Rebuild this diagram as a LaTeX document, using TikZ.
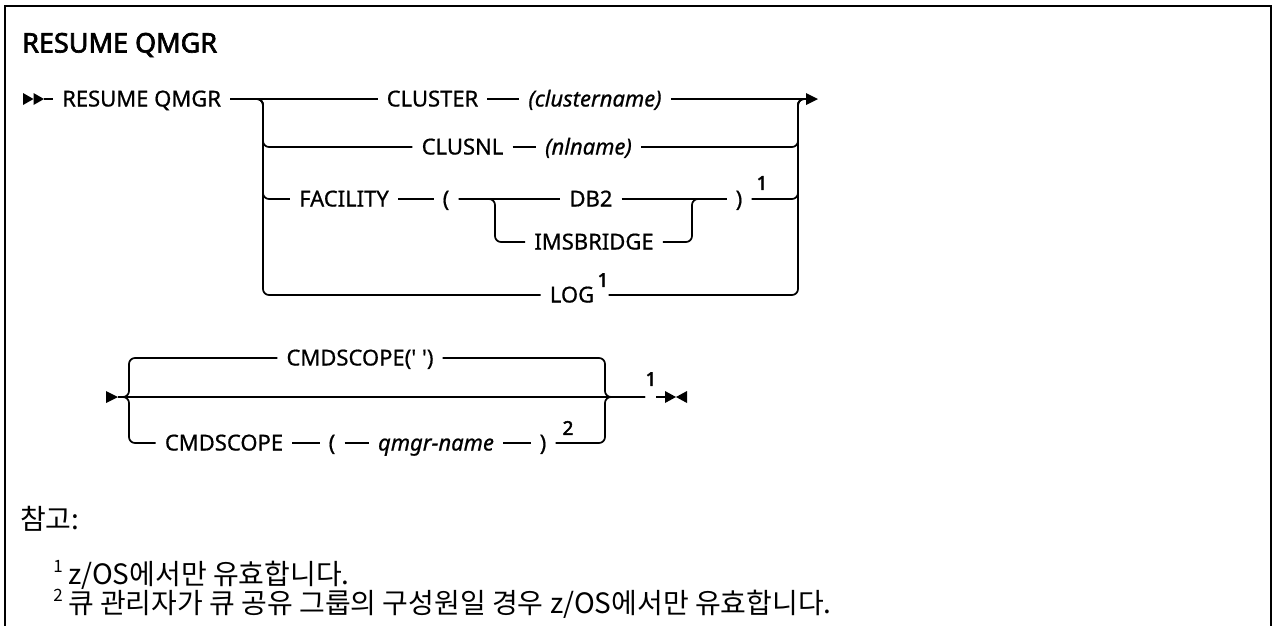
\documentclass[tikz,border=0pt]{standalone}
\usepackage{fontspec}
\setmainfont{Noto Sans}[BoldFont={Noto Sans}, BoldFeatures={FakeBold=2.4}]
\newfontfamily\krfont{Noto Sans CJK KR}
\newfontfamily\diafont{Noto Sans}[FakeBold=0.7]
\begin{document}
\begin{tikzpicture}[x=1pt,y=-1pt]
\tikzset{
 tok/.style={font=\diafont\fontsize{22}{26}\selectfont, inner xsep=9pt, inner ysep=0pt, text height=15pt, text depth=0pt},
 var/.style={tok, font=\diafont\fontsize{22}{26}\selectfont\itshape},
 supnum/.style={font=\fontsize{19}{21}\selectfont\bfseries, inner sep=0pt},
 rail/.style={line width=1.7pt},
 br/.style={rail, rounded corners=6pt},
 notetxt/.style={font=\krfont\fontsize{28}{32}\selectfont, anchor=west, inner sep=0pt},
 notesup/.style={font=\krfont\fontsize{17}{19}\selectfont, inner sep=0pt},
}
\useasboundingbox (0,0) rectangle (1274,625);
\draw[line width=2.8pt] (5,626) -- (5,6) -- (1271,6) -- (1271,626);

\node[anchor=west, font=\fontsize{27}{32}\selectfont\bfseries, inner sep=0pt] (title) at (22,45) {RESUME QMGR};

% ---------- diagram 1 ----------
\coordinate (s1) at (44,99);
\coordinate (jl1) at (263,99);
\coordinate (jr1) at (798,99);
\coordinate (e1) at (806,99);
\coordinate (jl2) at (495,199);
\coordinate (jr2) at (692,199);
\fill (23,93) -- (33.5,99) -- (23,105) -- cycle;
\fill (33.5,93) -- (44,99) -- (33.5,105) -- cycle;
\fill (806,93) -- (818,99) -- (806,105) -- cycle;

\node[tok, anchor=west] (rq) at (53,99) {RESUME QMGR};
\node[tok] (cl) at (432.5,99) {CLUSTER};
\node[var] (cn) at (595,99) {(clustername)};
\node[tok] (csn) at (462.5,147) {CLUSNL};
\node[var] (nln) at (588.5,147) {(nlname)};
\node[tok] (fac) at (344,199) {FACILITY};
\node[tok] (lp) at (446,199) {(};
\node[tok] (db2) at (591,199) {DB2};
\node[tok] (ims) at (594,242) {IMSBRIDGE};
\node[tok] (rp) at (739,199) {)};
\node[supnum] (f1a) at (762,183) {1};
\node[tok] (log) at (572,295) {LOG};
\node[supnum] (f1b) at (603,280) {1};

\draw[rail] (s1) -- (rq.west);
\draw[rail] (rq) -- (cl);
\draw[rail] (cl) -- (cn);
\draw[rail] (cn) -- (e1);
\draw[br] (rq.east) -- (jl1) |- (csn.west);
\draw[rail] (csn) -- (nln);
\draw[br] (nln.east) -| (jr1) -- (e1);
\draw[br] (rq.east) -- (jl1) |- (fac.west);
\draw[rail] (fac) -- (lp);
\draw[rail] (lp) -- (db2);
\draw[rail] (db2) -- (rp);
\draw[br] (lp.east) -- (jl2) |- (ims.west);
\draw[br] (ims.east) -| (jr2) -- (rp.west);
\draw[br] (rp.east) -| (jr1) -- (e1);
\draw[br] (rq.east) -- (jl1) |- (log.west);
\draw[br] (log.east -| f1b.east) -| (jr1) -- (e1);

% ---------- diagram 2 ----------
\coordinate (s2) at (118,397);
\coordinate (jl3) at (129,397);
\coordinate (jr3) at (605,397);
\coordinate (g1) at (645,397);
\coordinate (g2) at (656,397);
\coordinate (e2) at (665,397);
\fill (106,391) -- (118,397) -- (106,403) -- cycle;
\fill (665,391) -- (676,397) -- (665,403) -- cycle;
\fill (687,391) -- (676,397) -- (687,403) -- cycle;

\node[tok] (cs1) at (360,358) {CMDSCOPE(\textquotesingle\ \textquotesingle)};
\node[tok] (cs2) at (224,443) {CMDSCOPE};
\node[tok] (lp2) at (332,443) {(};
\node[var] (qn) at (436,443) {qmgr-name};
\node[tok] (rp2) at (543,443) {)};
\node[supnum] (f2) at (568,428) {2};
\node[supnum] (f3) at (651,379) {1};

\draw[rail] (s2) -- (g1);
\draw[rail] (g2) -- (e2);
\draw[br] (s2) -- (jl3) |- (cs1.west);
\draw[br] (cs1.east) -| (jr3) -- (g1);
\draw[br] (s2) -- (jl3) |- (cs2.west);
\draw[rail] (cs2) -- (lp2);
\draw[rail] (lp2) -- (qn);
\draw[rail] (qn) -- (rp2);
\draw[br] (rp2.east) -| (jr3) -- (g1);

% ---------- notes ----------
\node[notetxt] (ref) at (20,519) {참고:};
\node[notetxt] (n1) at (68,575) {z/OS에서만 유효합니다.};
\node[notesup] (m1) at (58,566) {1};
\node[notetxt] (n2) at (68,604) {큐 관리자가 큐 공유 그룹의 구성원일 경우 z/OS에서만 유효합니다.};
\node[notesup] (m2) at (58,595) {2};
\end{tikzpicture}
\end{document}
